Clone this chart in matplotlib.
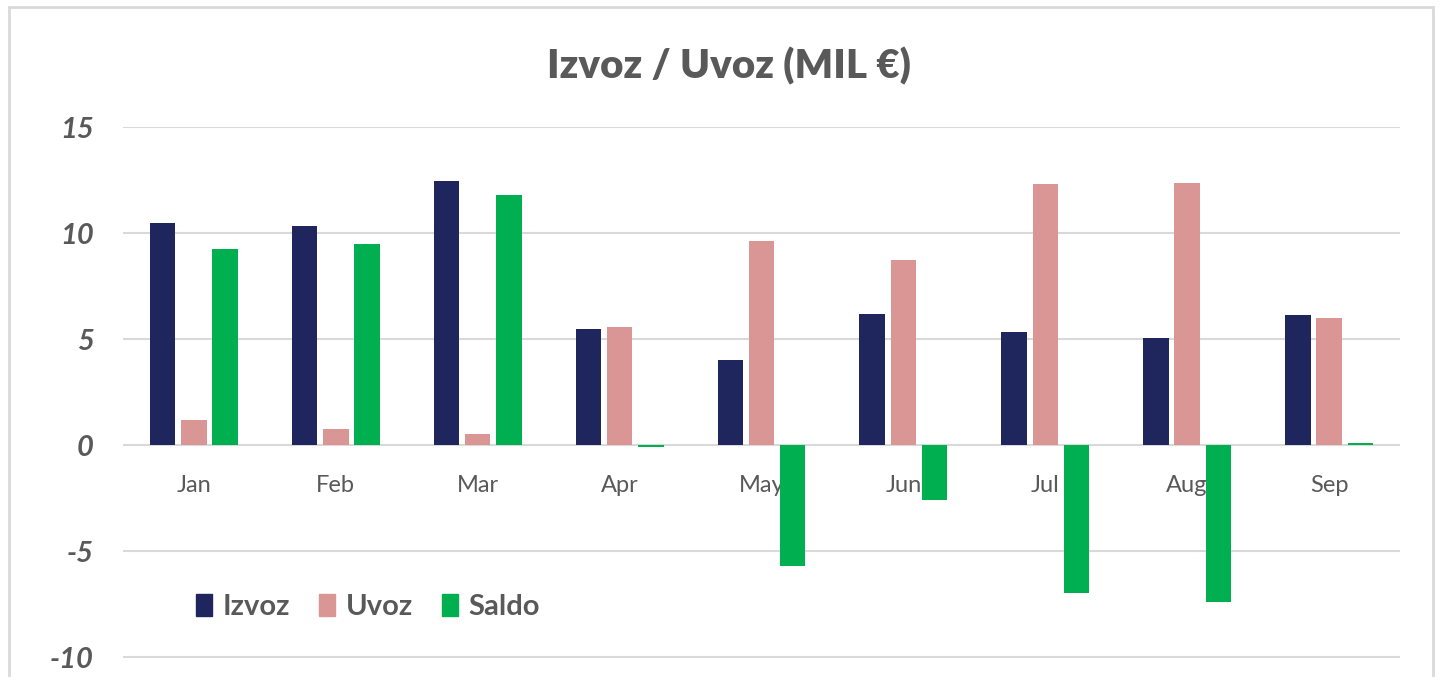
import matplotlib.pyplot as plt
import numpy as np
from matplotlib.patches import Rectangle, Patch

months = ["Jan", "Feb", "Mar", "Apr", "May", "Jun", "Jul", "Aug", "Sep"]
izvoz = [10.49, 10.33, 12.45, 5.47, 4.0, 6.18, 5.33, 5.05, 6.13]
uvoz = [1.18, 0.75, 0.52, 5.57, 9.62, 8.73, 12.3, 12.36, 5.99]
saldo = [9.25, 9.48, 11.79, -0.1, -5.7, -2.6, -7.0, -7.4, 0.1]
yticks = [-10, -5, 0, 5, 10, 15]

c_izvoz = "#1f265e"
c_uvoz = "#da9694"
c_saldo = "#00b050"
txt = "#595959"

plt.rcParams["font.family"] = ["Lato", "DejaVu Sans"]

W, H = 1445, 677
fig = plt.figure(figsize=(W / 100, H / 100), dpi=100)
fig.patch.set_facecolor("white")

# light frame around the chart (bottom is cut off in the original)
fig.patches.append(Rectangle((9 / W, -0.05), (1433 - 9) / W, 1.05 - 7 / H,
                             transform=fig.transFigure, fill=False,
                             edgecolor="#d9d9d9", linewidth=2))

ax = fig.add_axes([123 / W, 0, (1400 - 123) / W, (H - 127) / H])
ind = np.arange(len(months))
w = 0.18
ax.bar(ind - 0.22, izvoz, w, color=c_izvoz, zorder=3)
ax.bar(ind, uvoz, w, color=c_uvoz, zorder=3)
ax.bar(ind + 0.22, saldo, w, color=c_saldo, zorder=3)

ax.set_xlim(-0.5, len(months) - 0.5)
ax.set_ylim(15 - (H - 127) / 21.2, 15)
ax.set_yticks(yticks)
ax.set_yticklabels([str(v) for v in yticks], fontsize=21, fontweight="bold",
                   fontstyle="italic", color=txt)
ax.tick_params(axis="y", length=0, pad=21)
ax.set_xticks([])
for s in ax.spines.values():
    s.set_visible(False)
ax.grid(axis="y", color="#d9d9d9", linewidth=1.5, zorder=0)
ax.set_axisbelow(True)

# month labels sit just below the zero line, under the bars
for i, m in enumerate(months):
    ax.annotate(m, (i, 0), xytext=(0, -29), textcoords="offset points",
                ha="center", va="center", fontsize=17, color=txt, zorder=1)

fig.text(729 / W, 1 - 66 / H, "Izvoz / Uvoz (MIL €)", ha="center", va="center",
         fontsize=29, fontweight="heavy", color=txt)

handles = [Patch(color=c_izvoz), Patch(color=c_uvoz), Patch(color=c_saldo)]
leg = fig.legend(handles, ["Izvoz", "Uvoz", "Saldo"], loc="center left",
                 bbox_to_anchor=(170 / W, 1 - 607 / H), ncol=3, frameon=False,
                 handlelength=0.55, handleheight=0.8, handletextpad=0.35,
                 columnspacing=1.0, prop={"size": 21, "weight": "bold"})
for t in leg.get_texts():
    t.set_color(txt)

plt.savefig("out.png", dpi=100)
